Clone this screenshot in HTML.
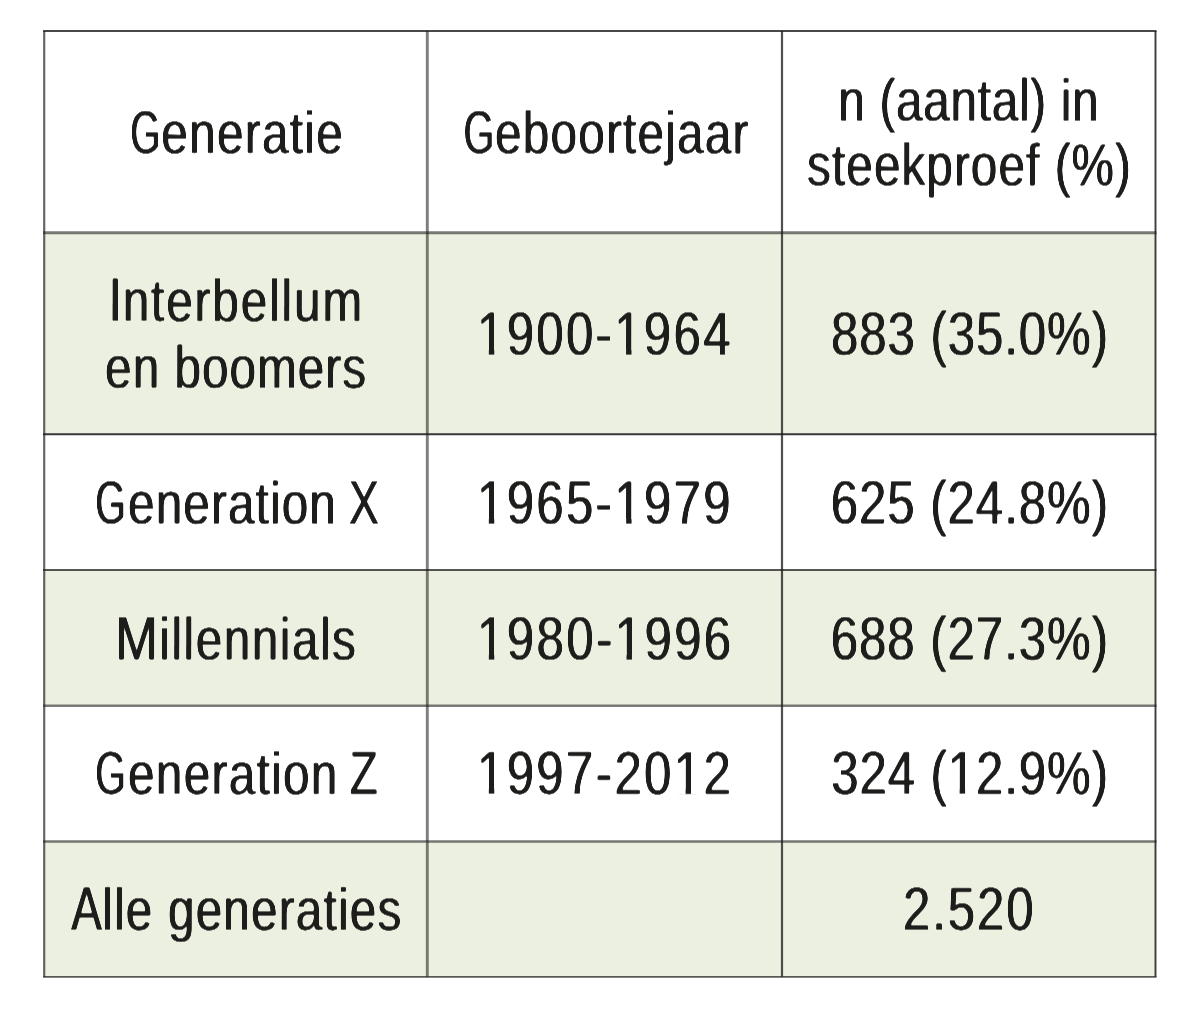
<!DOCTYPE html>
<html lang="nl">
<head>
<meta charset="utf-8">
<title>Generaties</title>
<style>
html,body{margin:0;padding:0;background:#fff;}
body{width:1200px;height:1026px;overflow:hidden;}
svg{display:block;}
text{font-family:"Liberation Sans",sans-serif;font-size:59.55px;fill:#1d1d1b;font-kerning:none;text-rendering:geometricPrecision;}
.c{font-size:61.8px;}
.g{font-size:61px;}
.d{font-size:61.4px;}
</style>
</head>
<body>
<svg width="1200" height="1026" viewBox="0 0 1200 1026">
<defs><filter id="hb" x="0" y="0" width="1200" height="1026" filterUnits="userSpaceOnUse" color-interpolation-filters="sRGB"><feConvolveMatrix in="SourceAlpha" order="3 1" kernelMatrix="0.6 1 0.6" divisor="1" edgeMode="none" preserveAlpha="false" result="h"/><feComponentTransfer in="h" result="i"><feFuncA type="table" tableValues="1 0"/></feComponentTransfer><feConvolveMatrix in="i" order="1 3" kernelMatrix="0.4 1 0.4" divisor="1" edgeMode="duplicate" preserveAlpha="false" result="v"/><feComponentTransfer in="v" result="a0"><feFuncA type="table" tableValues="1 0"/></feComponentTransfer><feGaussianBlur in="a0" stdDeviation="0.4" result="a"/><feFlood flood-color="#1d1d1b"/><feComposite operator="in" in2="a"/></filter></defs>
<rect x="0" y="0" width="1200" height="1026" fill="#ffffff"/>
<rect x="44.2" y="232.7" width="1111.3" height="201.5" fill="#ecf0e0"/>
<rect x="44.2" y="570" width="1111.3" height="135.7" fill="#ecf0e0"/>
<rect x="44.2" y="841.4" width="1111.3" height="135.4" fill="#ecf0e0"/>
<line x1="43.1" y1="31.1" x2="1156.5" y2="31.1" stroke="#1d1d1b" stroke-opacity="0.81" stroke-width="2"/>
<line x1="43.1" y1="232.7" x2="1156.5" y2="232.7" stroke="#1d1d1b" stroke-opacity="0.59" stroke-width="2.9"/>
<line x1="43.1" y1="434.2" x2="1156.5" y2="434.2" stroke="#1d1d1b" stroke-opacity="0.88" stroke-width="1.9"/>
<line x1="43.1" y1="570" x2="1156.5" y2="570" stroke="#1d1d1b" stroke-opacity="0.748" stroke-width="2"/>
<line x1="43.1" y1="705.7" x2="1156.5" y2="705.7" stroke="#1d1d1b" stroke-opacity="0.581" stroke-width="2.4"/>
<line x1="43.1" y1="841.4" x2="1156.5" y2="841.4" stroke="#1d1d1b" stroke-opacity="0.59" stroke-width="2.5"/>
<line x1="43.1" y1="976.8" x2="1156.5" y2="976.8" stroke="#1d1d1b" stroke-opacity="0.722" stroke-width="1.8"/>
<line x1="44.2" y1="31.1" x2="44.2" y2="976.8" stroke="#1d1d1b" stroke-opacity="0.678" stroke-width="2.2"/>
<line x1="427.3" y1="31.1" x2="427.3" y2="976.8" stroke="#1d1d1b" stroke-opacity="0.572" stroke-width="2.9"/>
<line x1="782" y1="31.1" x2="782" y2="976.8" stroke="#1d1d1b" stroke-opacity="0.774" stroke-width="2.2"/>
<line x1="1155.5" y1="31.1" x2="1155.5" y2="976.8" stroke="#1d1d1b" stroke-opacity="0.862" stroke-width="1.9"/>
<g filter="url(#hb)">
<text y="153.30" transform="rotate(0.05 236.3 132.9)"><tspan class="g" x="130.20" textLength="30.14" lengthAdjust="spacingAndGlyphs">G</tspan><tspan x="161.33" textLength="182.65" lengthAdjust="spacingAndGlyphs" letter-spacing="1.639">eneratie</tspan></text>
<text y="153.30" transform="rotate(0.05 606.5 132.9)"><tspan class="g" x="463.46" textLength="30.74" lengthAdjust="spacingAndGlyphs">G</tspan><tspan x="495.13" textLength="254.43" lengthAdjust="spacingAndGlyphs" letter-spacing="1.525">eboortejaar</tspan></text>
<text y="120.80" transform="rotate(0.05 968.5 100.4)"><tspan x="838.29" textLength="261.09" lengthAdjust="spacingAndGlyphs" letter-spacing="0.915">n (aantal) in</tspan></text>
<text y="185.40" transform="rotate(0.05 968.2 165.0)"><tspan x="807.12" textLength="324.86" lengthAdjust="spacingAndGlyphs" letter-spacing="1.347">steekproef (%)</tspan></text>
<text y="321.20" transform="rotate(0.05 236.0 300.8)"><tspan class="c" x="108.50" textLength="13.41" lengthAdjust="spacingAndGlyphs">I</tspan><tspan x="122.69" textLength="241.40" lengthAdjust="spacingAndGlyphs" letter-spacing="2.372">nterbellum</tspan></text>
<text y="387.90" transform="rotate(0.05 235.8 367.5)"><tspan x="105.13" textLength="261.99" lengthAdjust="spacingAndGlyphs" letter-spacing="1.301">en boomers</tspan></text>
<text y="354.80" transform="rotate(0.05 605.4 334.4)"><tspan class="d" x="477.03" textLength="255.78" lengthAdjust="spacingAndGlyphs" letter-spacing="2.900">1900-1964</tspan></text>
<text y="354.80" transform="rotate(0.05 969.1 334.4)"><tspan class="d" x="831.02" textLength="278.03" lengthAdjust="spacingAndGlyphs" letter-spacing="1.186">883 (35.0%)</tspan></text>
<text y="523.70" transform="rotate(0.05 237.3 503.3)"><tspan class="g" x="95.17" textLength="30.62" lengthAdjust="spacingAndGlyphs">G</tspan><tspan x="128.03" textLength="208.96" lengthAdjust="spacingAndGlyphs" letter-spacing="1.432">eneration</tspan> <tspan class="c" x="348.99" textLength="29.84" lengthAdjust="spacingAndGlyphs">X</tspan></text>
<text y="523.70" transform="rotate(0.05 605.0 503.3)"><tspan class="d" x="477.03" textLength="255.94" lengthAdjust="spacingAndGlyphs" letter-spacing="2.922">1965-1979</tspan></text>
<text y="523.70" transform="rotate(0.05 969.1 503.3)"><tspan class="d" x="830.66" textLength="278.43" lengthAdjust="spacingAndGlyphs" letter-spacing="1.231">625 (24.8%)</tspan></text>
<text y="659.60" transform="rotate(0.05 236.7 639.2)"><tspan class="c" x="114.96" textLength="43.02" lengthAdjust="spacingAndGlyphs">M</tspan><tspan x="159.36" textLength="198.15" lengthAdjust="spacingAndGlyphs" letter-spacing="1.929">illennials</tspan></text>
<text y="659.60" transform="rotate(0.05 605.4 639.2)"><tspan class="d" x="477.03" textLength="256.59" lengthAdjust="spacingAndGlyphs" letter-spacing="3.013">1980-1996</tspan></text>
<text y="659.60" transform="rotate(0.05 969.1 639.2)"><tspan class="d" x="830.66" textLength="278.43" lengthAdjust="spacingAndGlyphs" letter-spacing="1.231">688 (27.3%)</tspan></text>
<text y="794.15" transform="rotate(0.05 236.5 773.8)"><tspan class="g" x="95.17" textLength="30.62" lengthAdjust="spacingAndGlyphs">G</tspan><tspan x="128.03" textLength="210.54" lengthAdjust="spacingAndGlyphs" letter-spacing="1.650">eneration</tspan> <tspan class="c" x="349.80" textLength="27.87" lengthAdjust="spacingAndGlyphs">Z</tspan></text>
<text y="794.15" transform="rotate(0.05 605.0 773.8)"><tspan class="d" x="477.03" textLength="256.10" lengthAdjust="spacingAndGlyphs" letter-spacing="2.944">1997-2012</tspan></text>
<text y="794.15" transform="rotate(0.05 969.1 773.8)"><tspan class="d" x="831.28" textLength="277.74" lengthAdjust="spacingAndGlyphs" letter-spacing="1.153">324 (12.9%)</tspan></text>
<text y="930.00" transform="rotate(0.05 235.6 909.6)"><tspan class="c" x="71.16" textLength="30.63" lengthAdjust="spacingAndGlyphs">A</tspan><tspan x="102.24" textLength="300.24" lengthAdjust="spacingAndGlyphs" letter-spacing="1.506">lle generaties</tspan></text>
<text y="930.00" transform="rotate(0.05 968.5 909.6)"><tspan class="d" x="902.98" textLength="132.38" lengthAdjust="spacingAndGlyphs" letter-spacing="2.365">2.520</tspan></text>
</g>
<g>
<rect x="478.27" y="349.11" width="10.57" height="6.19" fill="#ecf0e0"/>
<rect x="494.26" y="349.11" width="10.19" height="6.19" fill="#ecf0e0"/>
<rect x="615.50" y="349.11" width="10.57" height="6.19" fill="#ecf0e0"/>
<rect x="631.49" y="349.11" width="10.19" height="6.19" fill="#ecf0e0"/>
<rect x="478.27" y="518.01" width="10.57" height="6.19" fill="#ffffff"/>
<rect x="494.26" y="518.01" width="10.19" height="6.19" fill="#ffffff"/>
<rect x="615.58" y="518.01" width="10.57" height="6.19" fill="#ffffff"/>
<rect x="631.57" y="518.01" width="10.19" height="6.19" fill="#ffffff"/>
<rect x="478.27" y="653.91" width="10.57" height="6.19" fill="#ecf0e0"/>
<rect x="494.26" y="653.91" width="10.19" height="6.19" fill="#ecf0e0"/>
<rect x="615.95" y="653.91" width="10.57" height="6.19" fill="#ecf0e0"/>
<rect x="631.94" y="653.91" width="10.19" height="6.19" fill="#ecf0e0"/>
<rect x="478.27" y="788.46" width="10.57" height="6.19" fill="#ffffff"/>
<rect x="494.26" y="788.46" width="10.19" height="6.19" fill="#ffffff"/>
<rect x="675.02" y="788.46" width="10.57" height="6.19" fill="#ffffff"/>
<rect x="691.01" y="788.46" width="10.19" height="6.19" fill="#ffffff"/>
<rect x="949.09" y="788.46" width="10.57" height="6.19" fill="#ffffff"/>
<rect x="965.08" y="788.46" width="10.19" height="6.19" fill="#ffffff"/>
</g>
</svg>
</body>
</html>
